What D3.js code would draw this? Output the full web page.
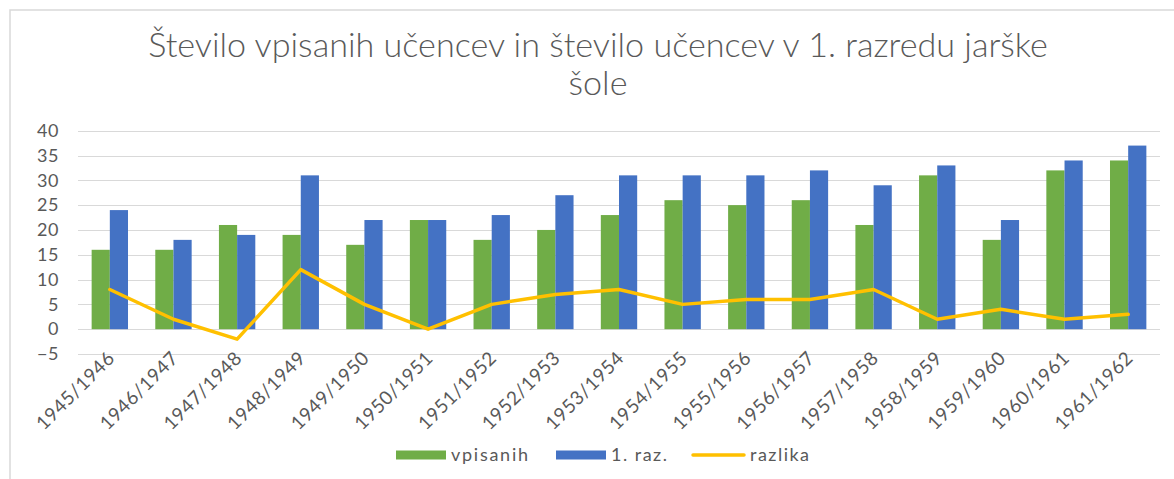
<!DOCTYPE html>
<html>
<head>
<meta charset="utf-8">
<script src="https://cdn.jsdelivr.net/npm/d3@7"></script>
<style>
html,body{margin:0;padding:0;background:#fff;}
svg{display:block;}
text{font-family:Lato,"Open Sans",sans-serif;fill:#595959;}
</style>
</head>
<body>
<svg id="chart" width="1174" height="479"></svg>
<script>
const categories = ["1945/1946","1946/1947","1947/1948","1948/1949","1949/1950","1950/1951","1951/1952","1952/1953","1953/1954","1954/1955","1955/1956","1956/1957","1957/1958","1958/1959","1959/1960","1960/1961","1961/1962"];
const vpisanih = [16,16,21,19,17,22,18,20,23,26,25,26,21,31,18,32,34];
const razred1 = [24,18,19,31,22,22,23,27,31,31,31,32,29,33,22,34,37];
const razlika = [8,2,-2,12,5,0,5,7,8,5,6,6,8,2,4,2,3];
const yTicks = [-5,0,5,10,15,20,25,30,35,40];
const seriesNames = ["vpisanih","1. raz.","razlika"];
const titleLines = ["Število vpisanih učencev in število učencev v 1. razredu jarške","šole"];

const colors = {"vpisanih":"#70AD47","1. raz.":"#4472C4","razlika":"#FFC000"};

const svg = d3.select("#chart");

// chart border
svg.append("rect").attr("x",10).attr("y",10).attr("width",1200).attr("height",500)
  .attr("fill","none").attr("stroke","#d9d9d9").attr("stroke-width",1.5);

// title
const t1 = svg.append("text").attr("x",598).attr("y",57).attr("text-anchor","middle")
  .style("font-size","28px").style("font-weight",300).text(titleLines[0]);
let w = t1.node().getComputedTextLength();
const fs = 28*900/w;
t1.style("font-size",fs+"px");
svg.append("text").attr("x",598).attr("y",95).attr("text-anchor","middle")
  .style("font-size",fs+"px").style("font-weight",300).text(titleLines[1]);

const x0 = d3.scaleBand().domain(categories).range([78,1160]).paddingInner(0).paddingOuter(0);
const x1 = d3.scaleBand().domain(["vpisanih","1. raz."]).range([0,x0.bandwidth()]).paddingInner(0).paddingOuter(0.75);
const y = d3.scaleLinear().domain([-5,40]).range([354,130.7]);

// gridlines
svg.append("g").selectAll("line").data(yTicks).join("line")
  .attr("x1",78).attr("x2",1160).attr("y1",d=>Math.round(y(d))+0.5).attr("y2",d=>Math.round(y(d))+0.5)
  .attr("stroke","#d9d9d9").attr("stroke-width",1);

// y axis labels
const yAxis = d3.axisLeft(y).tickValues(yTicks).tickSize(0).tickPadding(0);
const gy = svg.append("g").attr("transform","translate(59,0)").call(yAxis);
gy.select(".domain").remove();
gy.selectAll("text").style("font-size","18px").style("font-family","Lato,sans-serif")
  .style("letter-spacing","0.6px").attr("fill","#595959");

// bars
const rows = categories.map((c,i)=>({c, vals:[{k:"vpisanih",v:vpisanih[i]},{k:"1. raz.",v:razred1[i]}]}));
const g = svg.append("g");
g.selectAll("g").data(rows).join("g").attr("transform",d=>`translate(${x0(d.c)},0)`)
  .selectAll("rect").data(d=>d.vals).join("rect")
  .attr("x",d=>x1(d.k)).attr("width",x1.bandwidth())
  .attr("y",d=>y(Math.max(0,d.v))).attr("height",d=>Math.abs(y(d.v)-y(0)))
  .attr("fill",d=>colors[d.k]);

// line
const line = d3.line().x((d,i)=>x0(categories[i])+x0.bandwidth()/2).y(d=>y(d));
svg.append("path").datum(razlika).attr("d",line).attr("fill","none")
  .attr("stroke",colors["razlika"]).attr("stroke-width",3.5).attr("stroke-linejoin","round").attr("stroke-linecap","round");

// x labels
const xAxis = d3.axisBottom(x0).tickSize(0).tickPadding(0);
const gx = svg.append("g").call(xAxis);
gx.select(".domain").remove();
gx.selectAll(".tick").attr("transform",d=>`translate(${x0(d)+x0.bandwidth()/2+1},355)`);
gx.selectAll("text").attr("y",0).attr("dy","0.35em").attr("x",0)
  .attr("text-anchor","end").attr("transform","rotate(-45)")
  .attr("textLength",101).attr("lengthAdjust","spacing")
  .style("font-size","19px").style("font-family","Lato,sans-serif").attr("fill","#595959");

// legend
const legend = svg.append("g");
const legX = [396,556,692];
const legTextW = [77,56,59];
seriesNames.forEach((s,i)=>{
  const lg = legend.append("g").attr("transform",`translate(${legX[i]},455)`);
  if(s==="razlika"){
    lg.append("line").attr("x1",1).attr("x2",52).attr("y1",0).attr("y2",0)
      .attr("stroke",colors[s]).attr("stroke-width",3.5).attr("stroke-linecap","round");
    lg.append("text").attr("x",58).attr("y",0).attr("dy","0.35em").style("font-size","18px")
      .attr("textLength",legTextW[i]).attr("lengthAdjust","spacing").text(s);
  } else {
    lg.append("rect").attr("x",0).attr("y",-4.5).attr("width",50).attr("height",9).attr("fill",colors[s]);
    lg.append("text").attr("x",55).attr("y",0).attr("dy","0.35em").style("font-size","18px")
      .attr("textLength",legTextW[i]).attr("lengthAdjust","spacing").text(s);
  }
});
</script>
</body>
</html>
